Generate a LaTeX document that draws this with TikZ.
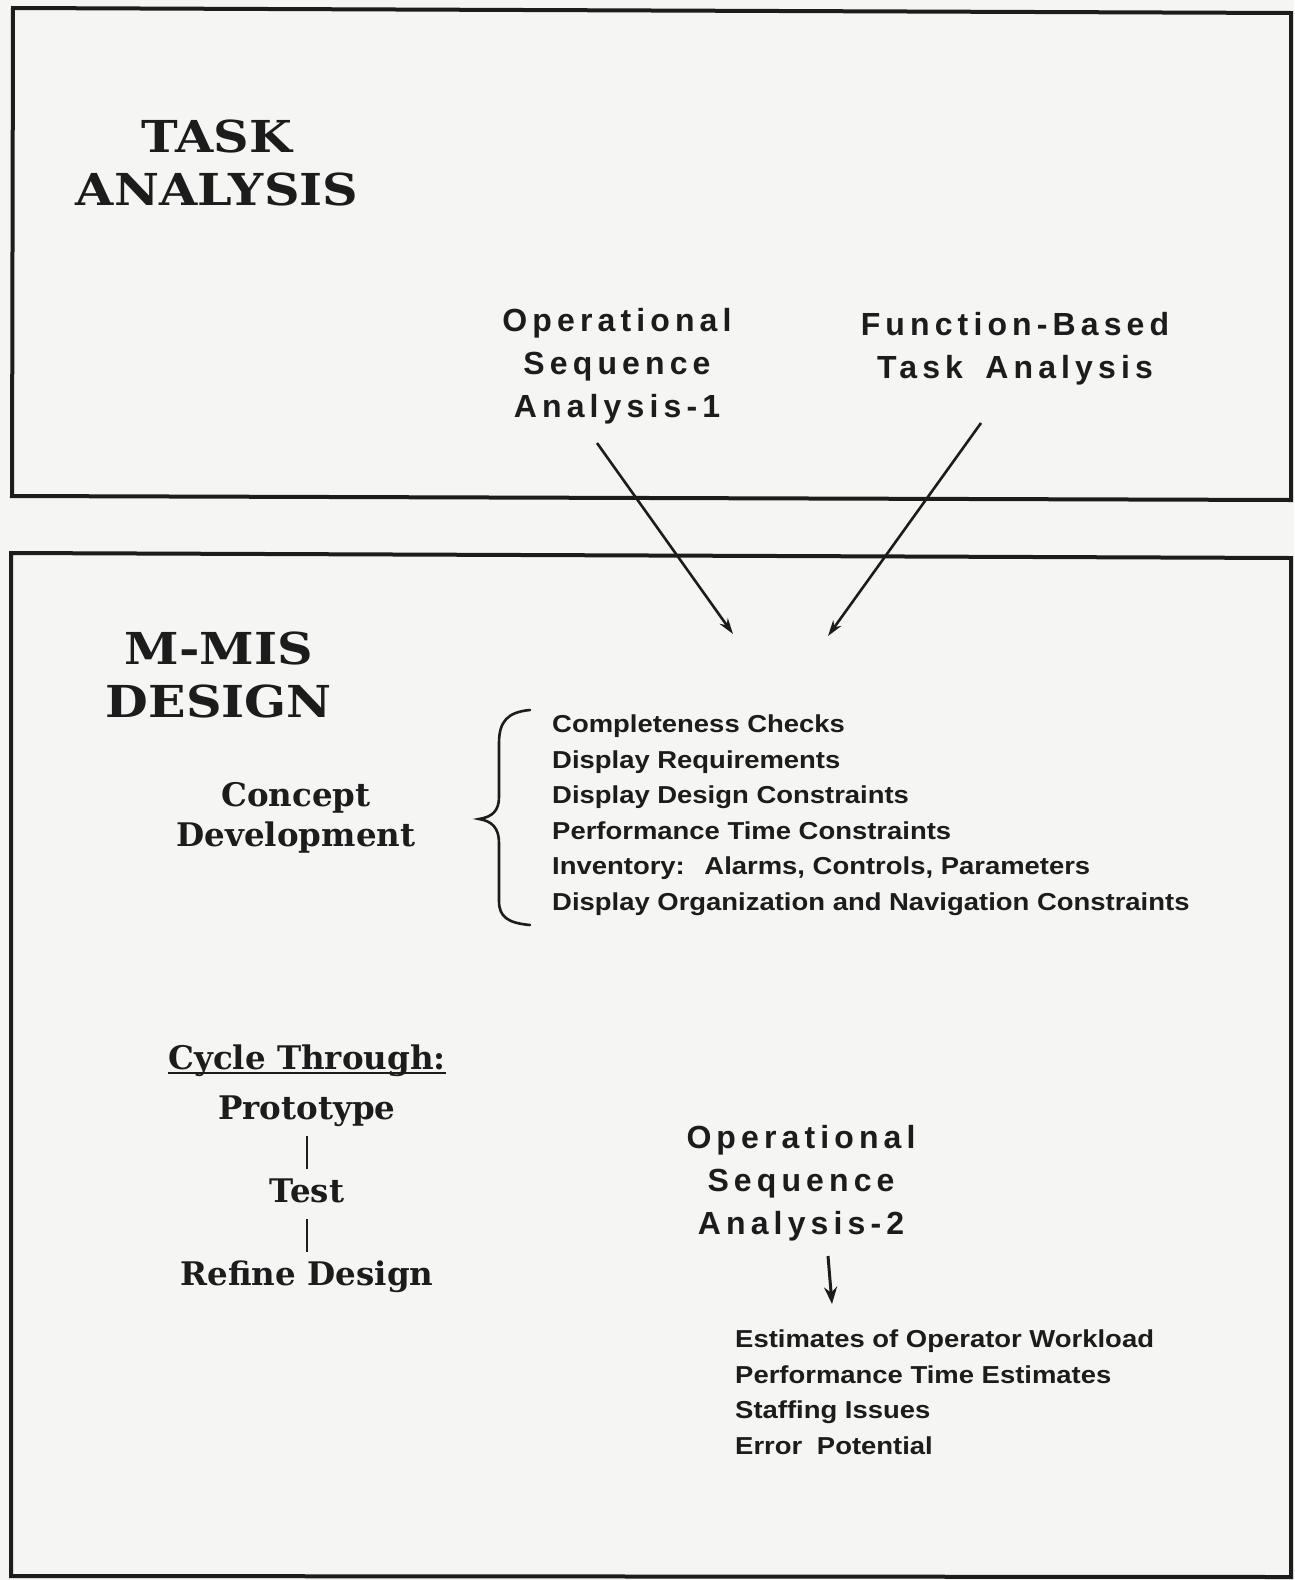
\documentclass[tikz,border=0pt]{standalone}
\usepackage{fontspec}
\usetikzlibrary{arrows.meta,calc}
\setmainfont{DejaVu Serif}
\newfontfamily\slab{DejaVu Serif}
\newfontfamily\slabw[FakeStretch=1.12]{DejaVu Serif}
\newfontfamily\wsans[LetterSpace=16]{Liberation Sans}
\newfontfamily\lsans[FakeStretch=1.12]{Liberation Sans}
\definecolor{ink}{HTML}{1C1C1C}
\definecolor{paper}{HTML}{F5F5F3}
\begin{document}
\begin{tikzpicture}[x=1pt,y=-1pt,
  frame/.style={draw=ink,line width=4pt,line join=miter},
  title/.style={font=\slabw\bfseries\fontsize{44}{53}\selectfont,align=center,inner sep=0pt,text=ink},
  sub/.style={font=\slab\bfseries\fontsize{32.5}{40}\selectfont,align=center,inner sep=0pt,text=ink},
  wide/.style={font=\wsans\bfseries\fontsize{32}{43}\selectfont,align=center,inner sep=0pt,text=ink},
  item/.style={font=\lsans\bfseries\fontsize{24.5}{35.5}\selectfont,align=left,inner sep=0pt,anchor=north west,text=ink},
  arr/.style={-{Stealth[length=16pt,width=10pt]},line width=2.6pt,draw=ink},
  link/.style={line width=2.4pt,draw=ink}
]
\useasboundingbox (0,0) rectangle (1294,1580);
\fill[paper] (0,0) rectangle (1294,1580);

% frames
\draw[frame] (13,8) -- (1291,13) -- (1291,500) -- (12,496) -- cycle;
\draw[frame] (11,553) -- (1291,558) -- (1291,1577) -- (11,1576) -- cycle;

% top panel
\node[title] (task) at (217,163) {TASK\\ANALYSIS};
\node[wide] (osa1) at (617,366) {Operational\\Sequence\\Analysis-1};
\node[wide] (fbta) at (1015,349) {Function-Based\\Task\hspace{0.7em}Analysis};

\coordinate (a1s) at (597,443);
\coordinate (a1e) at (733,634);
\coordinate (a2s) at (981,423);
\coordinate (a2e) at (828,636);
\draw[arr] (a1s) -- (a1e);
\draw[arr] (a2s) -- (a2e);

% bottom panel
\node[title] (mmis) at (219,675) {M-MIS\\DESIGN};
\node[sub] (concept) at (296,818) {Concept\\Development};

\node[item] (list1) at (552,715) {Completeness Checks\\
Display Requirements\\
Display Design Constraints\\
Performance Time Constraints\\
Inventory:\hspace{0.8em}Alarms, Controls, Parameters\\
Display Organization and Navigation Constraints};

\draw[line width=2.6pt,draw=ink,line cap=round]
  (530,710) .. controls (508,712) and (499,721) .. (499,743) -- (499,797)
  .. controls (499,811) and (492,817) .. (479,819)
  .. controls (492,821) and (499,828) .. (499,843) -- (499,901)
  .. controls (499,917) and (508,923) .. (530,925);

\node[sub,anchor=base] (cycle) at (307,1069) {Cycle Through:};
\draw[line width=2.6pt,draw=ink] ($(cycle.base west)+(0,4)$) -- ($(cycle.base east)+(0,4)$);
\node[sub,anchor=base] (proto) at (307,1119) {Prototype};
\node[sub,anchor=base] (test) at (307,1202) {Test};
\node[sub,anchor=base] (refine) at (307,1285) {Refine Design};
\draw[link] ($(proto.base)+(0,17)$) -- ($(test.base)+(0,-33)$);
\draw[link] ($(test.base)+(0,17)$) -- ($(refine.base)+(0,-33)$);

\node[wide] (osa2) at (801,1183) {Operational\\Sequence\\Analysis-2};
\coordinate (a3s) at (828,1256);
\coordinate (a3e) at (832,1304);
\draw[arr,line width=3pt,-{Stealth[length=17pt,width=13pt]}] (a3s) -- (a3e);

\node[item] (list2) at (735,1330) {Estimates of Operator Workload\\
Performance Time Estimates\\
Staffing Issues\\
Error\hspace{0.6em}Potential};
\end{tikzpicture}
\end{document}
